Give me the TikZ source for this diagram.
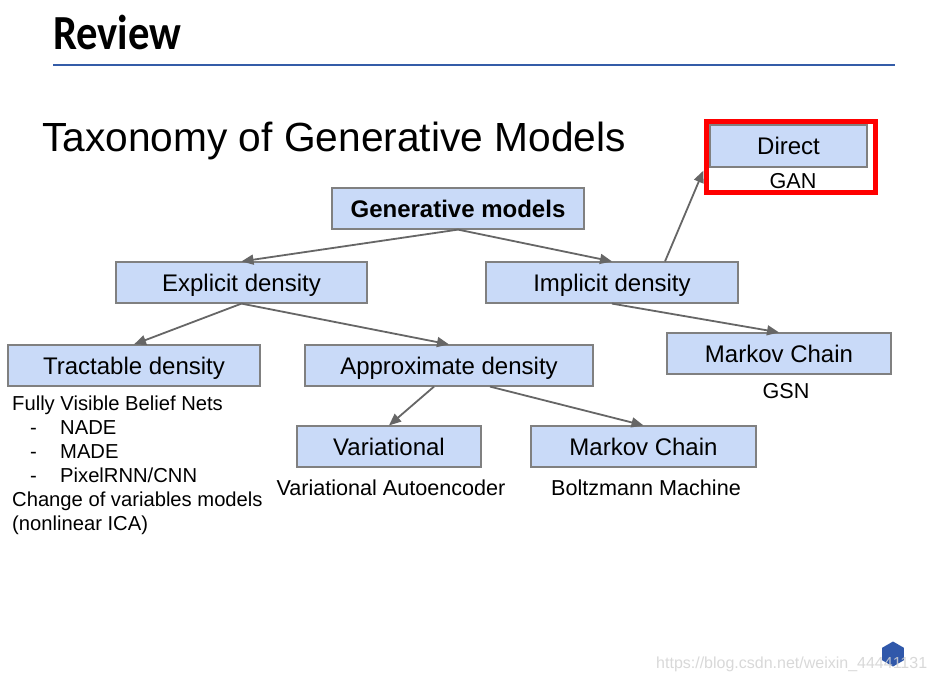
\documentclass[tikz,border=0pt]{standalone}
\usepackage{fontspec}
\setmainfont{Liberation Sans}
\newfontfamily\calibrifont{Carlito}
\usetikzlibrary{arrows.meta,shapes.geometric}
\definecolor{boxfill}{HTML}{C9DAF8}
\definecolor{boxline}{HTML}{808080}
\definecolor{arrowgray}{HTML}{666666}
\definecolor{rulebar}{RGB}{52,92,168}
\definecolor{hexblue}{RGB}{48,88,170}
\begin{document}
\begin{tikzpicture}[x=1pt,y=-1pt,
  taxbox/.style={draw=boxline, fill=boxfill, line width=1.2pt, minimum height=41pt, inner sep=0pt,
    text height=17pt, text depth=0pt, font=\fontsize{24}{28}\selectfont},
  sublabel/.style={inner sep=0pt, text height=15.5pt, text depth=0pt, font=\fontsize{21.6}{26}\selectfont},
  link/.style={draw=arrowgray, line width=1.8pt, -{Triangle[length=12pt,width=10pt]}}]
\fill[white] (0,0) rectangle (936,680);
\useasboundingbox (0,0) rectangle (936,680);
\node[anchor=base west, inner sep=0pt, font=\calibrifont\bfseries\fontsize{49}{56}\selectfont] (review) at (53,49) {\scalebox{0.87}[1]{Review}};
\coordinate (ruleL) at (53,65);
\coordinate (ruleR) at (895,65);
\draw[rulebar, line width=2pt] (ruleL) -- (ruleR);
\node[anchor=base west, inner sep=0pt, font=\fontsize{40.7}{48}\selectfont] (title) at (42,151) {Taxonomy of Generative Models};
\node[taxbox, minimum width=252pt, font=\bfseries\fontsize{24}{28}\selectfont] (gen) at (458,208.5) {Generative models};
\node[taxbox, minimum width=251pt] (explicit) at (241.5,282.5) {Explicit density};
\node[taxbox, minimum width=252pt] (implicit) at (612,282.5) {Implicit density};
\node[taxbox, minimum width=252pt] (tractable) at (134,365.5) {Tractable density};
\node[taxbox, minimum width=288pt] (approx) at (449,365.5) {Approximate density};
\node[taxbox, minimum width=224pt] (markovA) at (779,353.5) {Markov Chain};
\node[taxbox, minimum width=184pt] (variational) at (389,446.5) {Variational};
\node[taxbox, minimum width=225pt] (markovB) at (643.5,446.5) {Markov Chain};
\node[taxbox, minimum width=157pt, minimum height=42pt] (direct) at (788.5,146) {Direct};
\node[sublabel] (gan) at (793,181) {GAN};
\node[sublabel] (gsn) at (786,391) {GSN};
\node[sublabel] (vae) at (391,488) {Variational Autoencoder};
\node[sublabel] (boltz) at (646,488) {Boltzmann Machine};
\node[anchor=north west, inner sep=0pt, align=left, font=\fontsize{20.2}{24}\selectfont] (tractlist) at (12,396)
  {Fully Visible Belief Nets\\
   \makebox[48pt][l]{\hspace*{18pt}-}NADE\\
   \makebox[48pt][l]{\hspace*{18pt}-}MADE\\
   \makebox[48pt][l]{\hspace*{18pt}-}PixelRNN/CNN\\
   Change of variables models\\
   (nonlinear ICA)};
\draw[link] (gen.south) -- (explicit.north);
\draw[link] (gen.south) -- (implicit.north);
\draw[link] ([xshift=53pt]implicit.north) -- ([xshift=-6pt,yshift=-3pt]direct.south west);
\draw[link] (implicit.south) -- (markovA.north);
\draw[link] (explicit.south) -- (tractable.north);
\draw[link] (explicit.south) -- (approx.north);
\draw[link] ([xshift=-15pt]approx.south) -- (variational.north);
\draw[link] ([xshift=41pt]approx.south) -- (markovB.north);
\node[draw=red, line width=5pt, minimum width=169pt, minimum height=71pt, inner sep=0pt] (highlight) at (791,157) {};
\node[regular polygon, regular polygon sides=6, shape border rotate=30, fill=hexblue, minimum size=25pt, inner sep=0pt] (hexmark) at (893,654) {};
\node[anchor=base west, inner sep=0pt, text=gray!35, opacity=0.85, font=\fontsize{16}{18}\selectfont] (watermark) at (656,668) {https://blog.csdn.net/weixin\_44441131};
\end{tikzpicture}
\end{document}
